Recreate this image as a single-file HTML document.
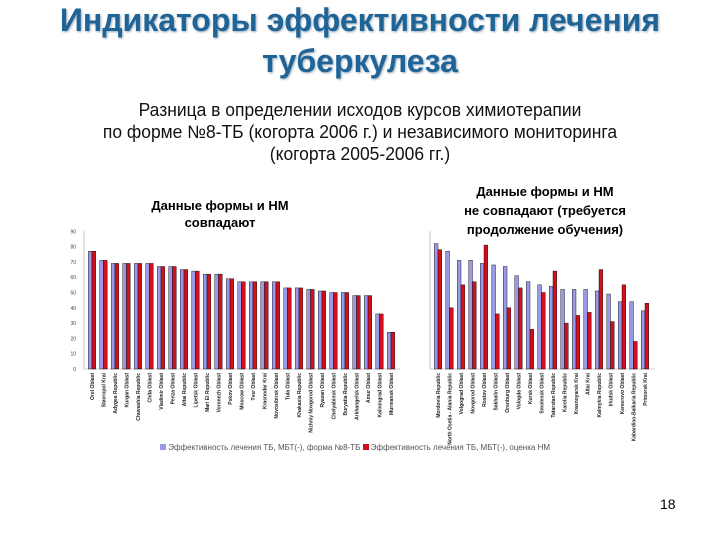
<!DOCTYPE html>
<html><head><meta charset="utf-8"><style>
body{margin:0;width:720px;height:540px;background:#fff;overflow:hidden;font-family:"Liberation Sans",sans-serif;position:relative}
.t{position:absolute;left:0;width:720px;text-align:center}
</style></head><body>
<div class="t" style="top:0px;font-size:32px;font-weight:bold;color:#1f6496;line-height:41px;text-shadow:1px 1px 2px #9ab">Индикаторы эффективности лечения<br>туберкулеза</div>
<div class="t" style="top:99px;font-size:18px;line-height:22px;color:#111;transform:scaleX(0.97)">Разница в определении исходов курсов химиотерапии<br>по форме №8-ТБ (когорта 2006 г.) и независимого мониторинга<br>(когорта 2005-2006 гг.)</div>
<div style="position:absolute;left:120px;width:200px;top:197px;text-align:center;font-size:13px;font-weight:bold;line-height:17px">Данные формы и НМ<br>совпадают</div>
<div style="position:absolute;left:430px;width:230px;top:182px;text-align:center;font-size:13px;font-weight:bold;line-height:19px">Данные формы и НМ<br>не совпадают (требуется<br>продолжение обучения)</div>
<svg id="c" width="720" height="540" style="position:absolute;left:0;top:0"></svg>
<div style="position:absolute;left:160px;top:443px;font-size:8px;color:#555;white-space:nowrap"><span style="display:inline-block;width:6px;height:6px;background:#9999e6"></span> Эффективность лечения ТБ, МБТ(-), форма №8-ТБ <span style="display:inline-block;width:6px;height:6px;background:#d0101c"></span> Эффективность лечения ТБ, МБТ(-), оценка НМ</div>
<div style="position:absolute;left:660px;top:496px;font-size:14px">18</div>
<script>
const leftCats=["Orel Oblast","Stavropol Krai","Adygea Republic","Kurgan Oblast","Chuvashia Republic","Chita Oblast","Vladimir Oblast","Penza Oblast","Altai Republic","Lipetsk Oblast","Mari El Republic","Voronezh Oblast","Pskov Oblast","Moscow Oblast","Tver Oblast","Krasnodar Krai","Novosibirsk Oblast","Tula Oblast","Khakasia Republic","Nizhniy Novgorod Oblast","Ryazan Oblast","Chelyabinsk Oblast","Buryatia Republic","Arkhangelsk Oblast","Amur Oblast","Kaliningrad Oblast","Murmansk Oblast"];
const leftForm=[77,71,69,69,69,69,67,67,65,64,62,62,59,57,57,57,57,53,53,52,51,50,50,48,48,36,24];
const leftNM=[77,71,69,69,69,69,67,67,65,64,62,62,59,57,57,57,57,53,53,52,51,50,50,48,48,36,24];
const rightCats=["Mordovia Republic","North Osetia - Alania Republic","Volgograd Oblast","Novgorod Oblast","Rostov Oblast","Sakhalin Oblast","Orenburg Oblast","Vologda Oblast","Kursk Oblast","Smolensk Oblast","Tatarstan Republic","Karelia Republic","Krasnoyarsk Krai","Altai Krai","Kalmykia Republic","Irkutsk Oblast","Kemerovo Oblast","Kabardino-Balkaria Republic","Primorsk Krai"];
const rightForm=[82,77,71,71,69,68,67,61,57,55,54,52,52,52,51,49,44,44,38];
const rightNM=[78,40,55,57,81,36,40,53,26,50,64,30,35,37,65,31,55,18,43];
const yTicks=[0,10,20,30,40,50,60,70,80,90];
const svg=document.getElementById('c');const NS='http://www.w3.org/2000/svg';
function mk(t,a){const e=document.createElementNS(NS,t);for(const k in a)e.setAttribute(k,a[k]);svg.appendChild(e);return e;}
const base=369,ppu=1.53;const y=v=>base-v*ppu;
function axisLine(x0,x1){const l=mk('line',{x1:x0,y1:y(90),x2:x0,y2:base,stroke:'#999','stroke-width':0.6});

const b=mk('line',{x1:x0,y1:base,x2:x1,y2:base,stroke:'#999','stroke-width':0.6});
}
axisLine(84,400);axisLine(430,655);
yTicks.forEach(v=>{const t=mk('text',{x:76,y:y(v)+2,'font-size':5,'text-anchor':'end',fill:'#444'});t.textContent=v;
});
const bw=3.7;
function draw(cats,a,b,x0,step){cats.forEach((c,i)=>{const cx=x0+i*step;
const r1=mk('rect',{x:cx-bw,y:y(a[i]),width:bw,height:a[i]*ppu,fill:'#9999e6',stroke:'#000','stroke-width':0.4});

const r2=mk('rect',{x:cx,y:y(b[i]),width:bw,height:b[i]*ppu,fill:'#d0101c',stroke:'#000','stroke-width':0.4});

const t=mk('text',{x:0,y:0,'font-size':5,'font-weight':'bold','text-anchor':'end',fill:'#222',transform:`translate(${cx+2},${base+4}) rotate(-90)`});t.textContent=c;
});}
draw(leftCats,leftForm,leftNM,92,11.5);
draw(rightCats,rightForm,rightNM,438,11.5);
</script>
</body></html>
